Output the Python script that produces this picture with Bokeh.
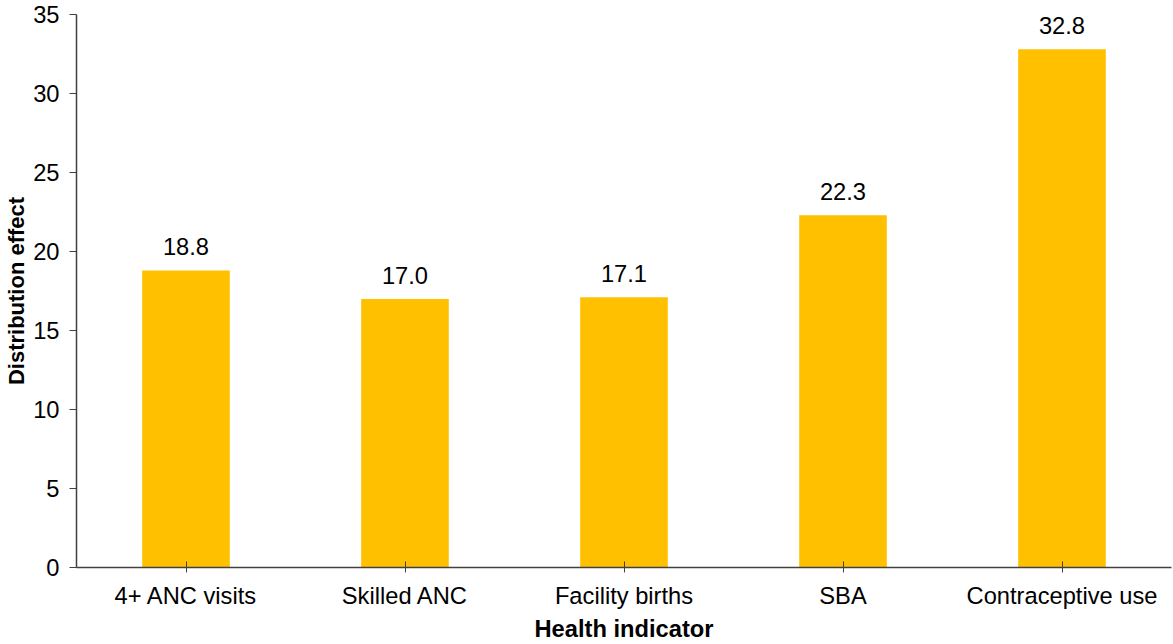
from bokeh.plotting import figure
from bokeh.models import ColumnDataSource, FixedTicker, LabelSet, Range1d
from bokeh.core.properties import value
from bokeh.embed import file_html
from bokeh.resources import INLINE

# Distribution effect by health indicator
categories = ["4+ ANC visits", "Skilled ANC", "Facility births", "SBA", "Contraceptive use"]
effects = [18.8, 17.0, 17.1, 22.3, 32.8]
y_ticks = [0, 5, 10, 15, 20, 25, 30, 35]

FONT = "Liberation Sans"
FONT_SIZE = "23.7px"
BAR_COLOR = "#FFC000"
AXIS_COLOR = "#404040"

source = ColumnDataSource(data=dict(
    cat=categories,
    effect=effects,
    label=[f"{v:.1f}" for v in effects],
))

p = figure(
    x_range=categories,
    width=1173, height=644,
    output_backend="svg", toolbar_location=None,
    min_border_left=76, min_border_right=2,
    min_border_top=14, min_border_bottom=77,
)
p.y_range = Range1d(0, 35)
p.x_range.range_padding = 0

p.vbar(x="cat", top="effect", width=0.4, source=source,
       fill_color=BAR_COLOR, line_color=None)

labels = LabelSet(x="cat", y="effect", text="label", source=source,
                  text_align="center", text_baseline="alphabetic", y_offset=15,
                  text_font=value(FONT), text_font_size=value(FONT_SIZE),
                  text_color="#000000")
p.add_layout(labels)

p.outline_line_color = None
p.xgrid.visible = False
p.ygrid.visible = False

p.yaxis.ticker = FixedTicker(ticks=y_ticks)
p.yaxis.axis_label = "Distribution effect"
p.xaxis.axis_label = "Health indicator"

for ax in (p.xaxis[0], p.yaxis[0]):
    ax.axis_line_color = AXIS_COLOR
    ax.axis_line_width = 1.5
    ax.major_tick_line_color = AXIS_COLOR
    ax.major_label_text_font = FONT
    ax.major_label_text_font_size = FONT_SIZE
    ax.major_label_text_color = "#000000"
    ax.axis_label_text_font = FONT
    ax.axis_label_text_font_size = FONT_SIZE
    ax.axis_label_text_font_style = "bold"
    ax.axis_label_text_color = "#000000"

p.yaxis.axis_label_text_font_size = "22px"
p.yaxis.minor_tick_line_color = None
p.yaxis.major_tick_in = 0
p.yaxis.major_tick_out = 7
p.yaxis.major_label_standoff = 10
p.yaxis.axis_label_standoff = 1

p.xaxis.major_tick_in = 6
p.xaxis.major_tick_out = 5
p.xaxis.major_label_standoff = 10
p.xaxis.axis_label_standoff = 4

open("out.html", "w").write(file_html(p, INLINE))
